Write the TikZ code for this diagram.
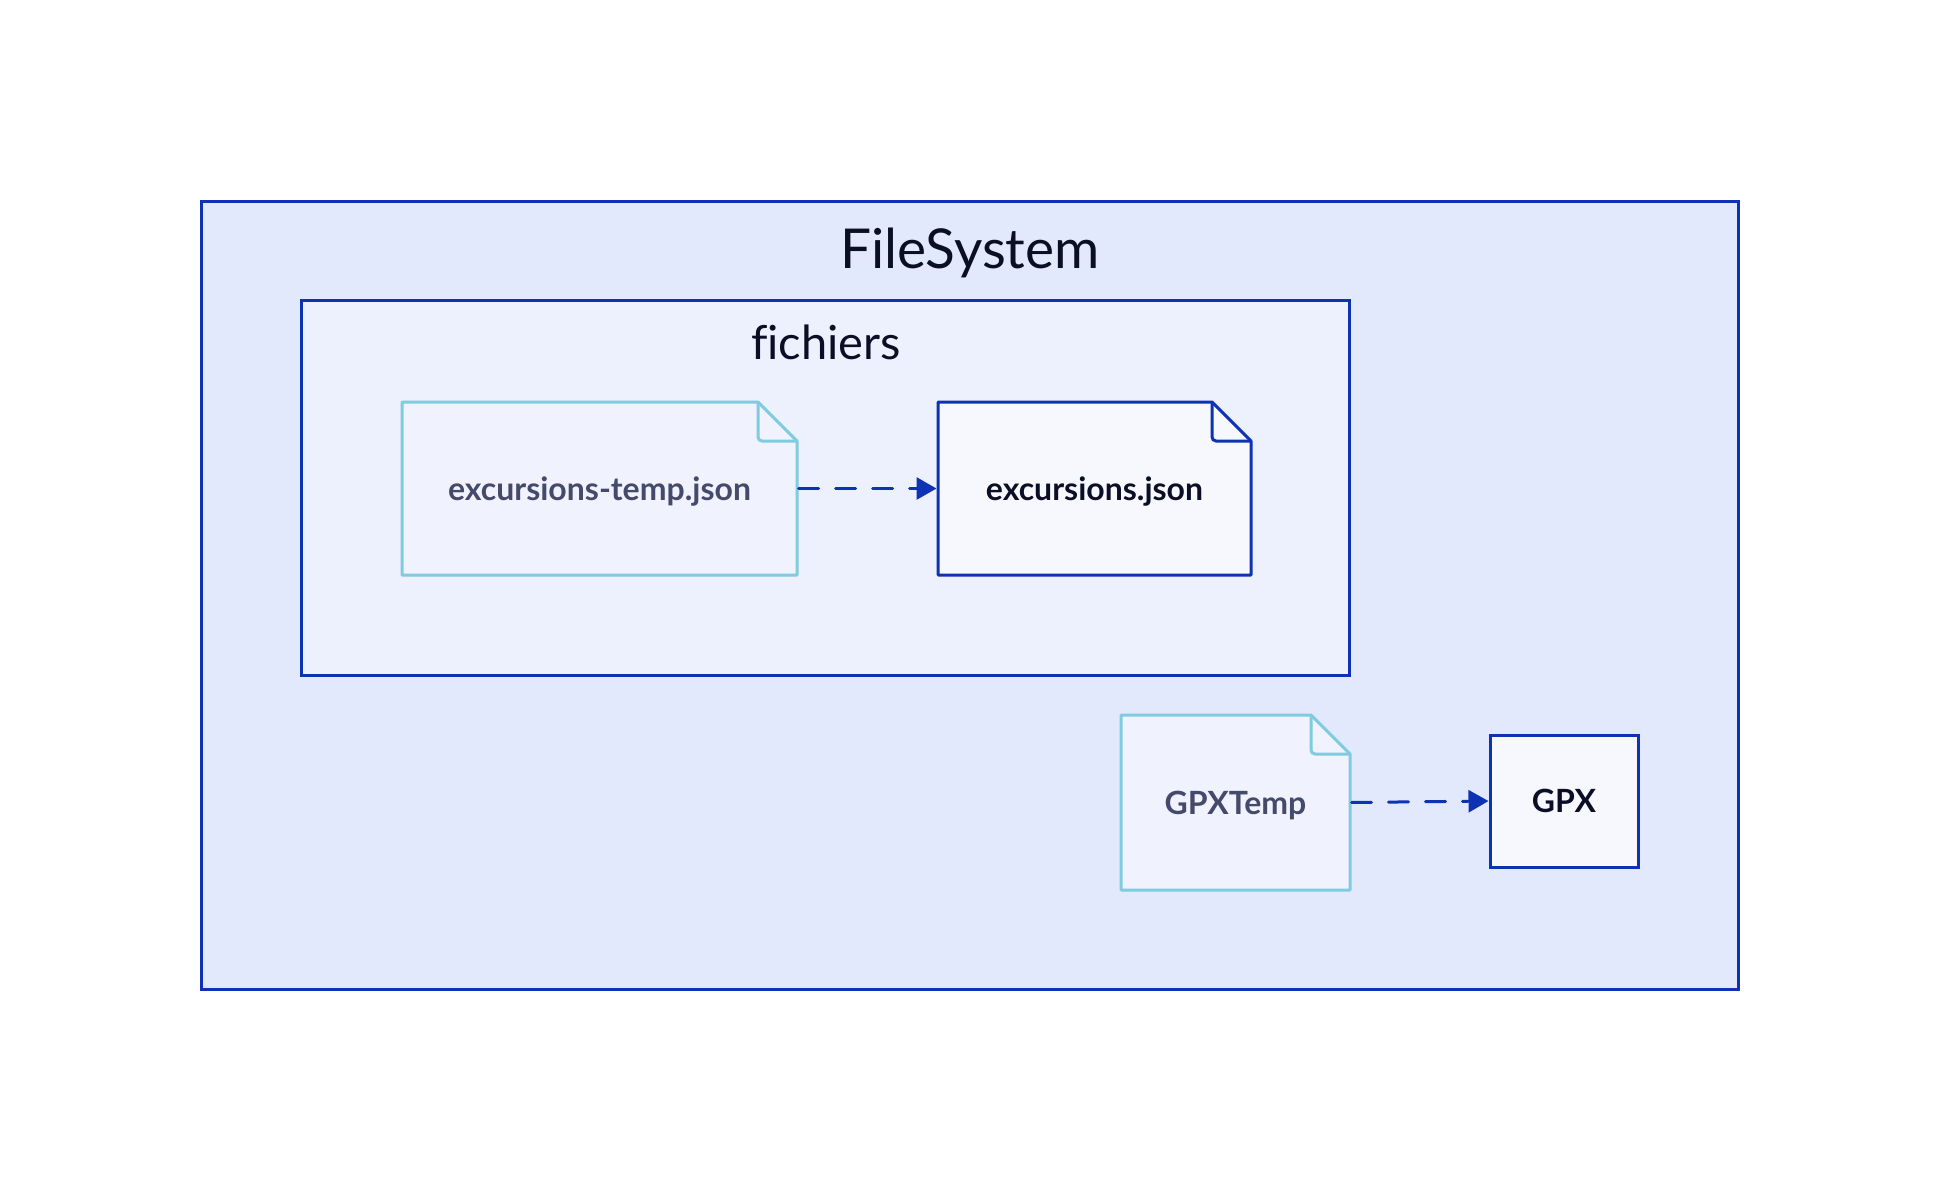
\documentclass[tikz,border=0pt]{standalone}
\usepackage{fontspec}
\setmainfont{Lato}[Ligatures={NoCommon}]
\usetikzlibrary{arrows.meta,calc,backgrounds}
\definecolor{bone}{HTML}{0D32B2}
\definecolor{outerfill}{HTML}{E3E9FD}
\definecolor{innerfill}{HTML}{EDF0FD}
\definecolor{docfill}{HTML}{F7F8FE}
\definecolor{tmpfill}{HTML}{F0F3FE}
\definecolor{tmpline}{HTML}{7FCBE0}
\definecolor{ink}{HTML}{0A0F25}
\definecolor{greyink}{HTML}{45496A}
\tikzset{
  container/.style={draw=bone, line width=3pt},
  docnode/.style={inner sep=0pt, outer sep=0pt, font=\fontsize{32}{38}\selectfont\bfseries},
  flow/.style={draw=bone, line width=3pt, dash pattern=on 20pt off 17pt, line cap=round,
    -{Triangle[length=20pt,width=22pt,line cap=butt]}, shorten >=1.5pt, shorten <=1.5pt},
}
\newcommand\pagedraw[3]{% node, stroke, fill
  \begin{scope}[on background layer]
    \draw[draw=#2, fill=#3, line width=3pt, line join=round]
      (#1.north west) -- ($(#1.north east)+(-39,0)$) -- ($(#1.north east)+(0,39)$)
      -- (#1.south east) -- (#1.south west) -- cycle;
    \draw[draw=#2, line width=3pt, rounded corners=4pt]
      ($(#1.north east)+(-39,0)$) |- ($(#1.north east)+(0,39)$);
  \end{scope}}
\begin{document}
\begin{tikzpicture}[x=1pt,y=-1pt]
\useasboundingbox (0,0) rectangle (1940,1192);
\begin{scope}[on background layer]
  \fill[white] (0,0) rectangle (1940,1192);
  \draw[container, fill=outerfill] (201.7,201.7) rectangle (1738.3,989.8);
  \draw[container, fill=innerfill] (301.9,300.6) rectangle (1349.8,675.5);
\end{scope}
\node[anchor=base, text=ink, font=\fontsize{55}{66}\selectfont] (fstitle) at (970,268) {FileSystem};
\node[anchor=base, text=ink, font=\fontsize{47}{56}\selectfont] (fititle) at (826,359) {fichiers};

\node[docnode, minimum width=395pt, minimum height=173pt, text=greyink] (tmp) at (599.5,488.5) {};
\node[anchor=base, docnode, text=greyink] at (599.5,500) {excursions-temp.json};
\pagedraw{tmp}{tmpline}{tmpfill}

\node[docnode, minimum width=313pt, minimum height=173pt] (json) at (1094.5,488.5) {};
\node[anchor=base, docnode, text=ink] at (1094.5,500) {excursions.json};
\pagedraw{json}{bone}{docfill}

\node[docnode, minimum width=229pt, minimum height=175pt] (gpxtmp) at (1235.5,802.5) {};
\node[anchor=base, docnode, text=greyink] at (1235.5,814) {GPXTemp};
\pagedraw{gpxtmp}{tmpline}{tmpfill}

\node[docnode, draw=bone, fill=docfill, line width=3pt, minimum width=148pt, minimum height=132pt, text=ink] (gpx) at (1564,801) {};
\node[anchor=base, docnode, text=ink] at (1564,812) {GPX};

\draw[flow] (tmp.east) -- (json.west);
\draw[flow] (gpxtmp.east) -- (gpx.west);
\end{tikzpicture}
\end{document}
